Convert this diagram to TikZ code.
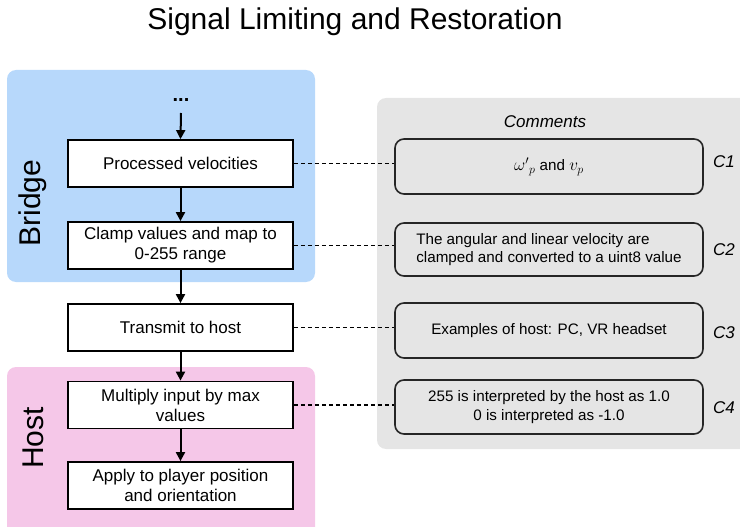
\documentclass[tikz,border=0pt]{standalone}
\usepackage{fontspec}
\setmainfont{Liberation Sans}
\usetikzlibrary{arrows.meta,calc}
\definecolor{bridgeblue}{RGB}{183,216,251}
\definecolor{hostpink}{RGB}{245,199,232}
\definecolor{notegrey}{RGB}{229,229,229}
\tikzset{
  region/.style={rounded corners=9pt, draw=none},
  procbox/.style={draw=black, line width=1.8pt, fill=white, minimum width=225pt,
    minimum height=47pt, align=center, inner sep=0pt, font=\fontsize{17}{20}\selectfont},
  notebox/.style={draw=black!85, line width=1.6pt, fill=notegrey, rounded corners=9pt,
    minimum width=308pt, minimum height=54pt, align=center, inner sep=0pt,
    font=\fontsize{15.2}{18.5}\selectfont},
  flow/.style={-{Triangle[length=9pt,width=9pt]}, line width=2pt},
  link/.style={dash pattern=on 4pt off 3pt, line width=1.5pt},
  tag/.style={font=\fontsize{17}{20}\selectfont\itshape},
  sidelabel/.style={rotate=90, font=\fontsize{30}{34}\selectfont},
}
\begin{document}
\begin{tikzpicture}[x=1pt,y=-1pt]
\useasboundingbox (0,0) rectangle (740,527);
\clip (0,0) rectangle (740,527);

% title
\node (title) at (355,22) {\fontsize{30}{34}\selectfont Signal Limiting and Restoration};

% background regions
\fill[bridgeblue, region] (7,70) rectangle (315,282);
\fill[hostpink, region] (7,367) rectangle (315,540);
\fill[notegrey, region] (377,98) rectangle (760,449);

\node[sidelabel] (bridge) at (33,203) {Bridge};
\node[sidelabel] (host) at (33,438) {Host};
\node[tag] (comments) at (545,122) {Comments};

% process steps
\node (dots) at (181,100) {\fontsize{20}{20}\selectfont\textbf{...}};
\coordinate (dotsend) at (181,113);
\node[procbox] (p1) at (180.5,163.5) {Processed velocities};
\node[procbox] (p2) at (180.5,245.5) {Clamp values and map to\\0-255 range};
\node[procbox] (p3) at (180.5,327.5) {Transmit to host};
\node[procbox] (p4) at (180.5,405) {Multiply input by max\\values};
\node[procbox] (p5) at (180.5,485.5) {Apply to player position\\and orientation};

\draw[flow] (dotsend) -- (p1.north);
\draw[flow] (p1) -- (p2);
\draw[flow] (p2) -- (p3);
\draw[flow] (p3) -- (p4);
\draw[flow] (p4) -- (p5);

% comment boxes
\node[notebox, minimum height=55pt] (c1) at (549,166.5)
  {\fontsize{17}{20}\selectfont${\omega'}_{p}$\fontsize{15.2}{18.5}\selectfont{} and \fontsize{17}{20}\selectfont$v_p$};
\node[notebox, minimum height=53pt, align=left] (c2) at (549,249.5) {The angular and linear velocity are\\clamped and converted to a uint8 value};
\node[notebox, minimum height=55pt] (c3) at (549,330.5) {Examples of host: PC, VR headset};
\node[notebox, minimum height=54pt] (c4) at (549,407) {255 is interpreted by the host as 1.0\\0 is interpreted as -1.0};

\node[tag] (t1) at (724,162) {C1};
\node[tag] (t2) at (724,250) {C2};
\node[tag] (t3) at (724,333) {C3};
\node[tag] (t4) at (724,408) {C4};

% dashed links
\draw[link] (p1.east) -- (p1.east -| c1.west);
\draw[link] (p2.east) -- (p2.east -| c2.west);
\draw[link] (p3.east) -- (p3.east -| c3.west);
\draw[link] (p4.east) -- (p4.east -| c4.west);
\end{tikzpicture}
\end{document}
